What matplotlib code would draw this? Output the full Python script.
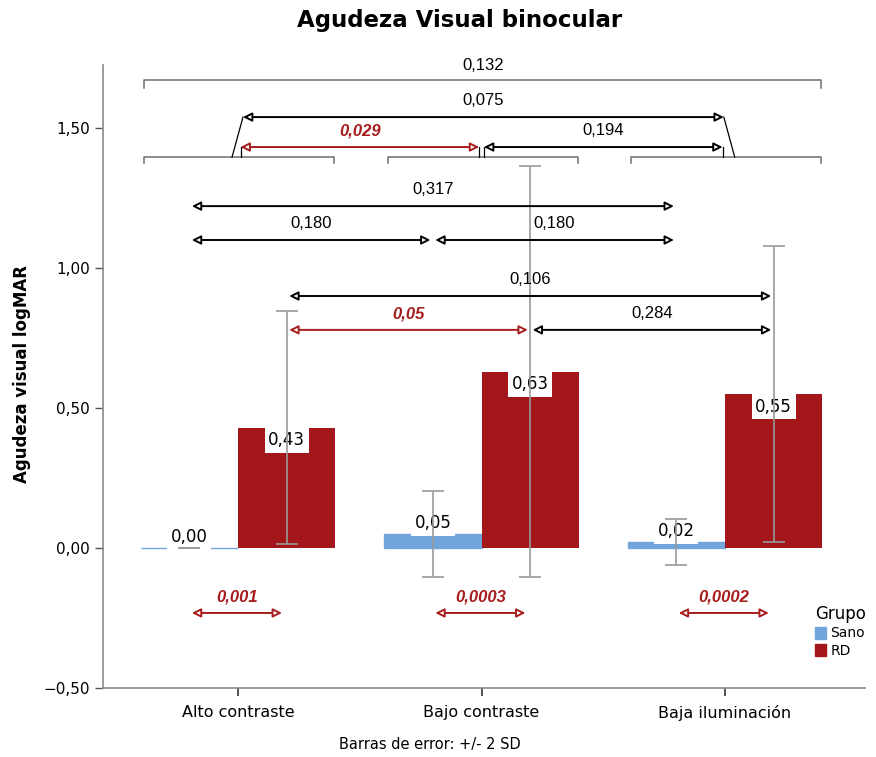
import numpy as np
import matplotlib
matplotlib.use('Agg')
import matplotlib.pyplot as plt
from matplotlib import font_manager
from matplotlib.ticker import FuncFormatter
from matplotlib.patches import Patch

categories = ['Alto contraste', 'Bajo contraste', 'Baja iluminación']
sano_mean = [0.00, 0.05, 0.02]
rd_mean = [0.43, 0.63, 0.55]
sano_2sd = [0.0, 0.152, 0.082]
rd_2sd = [0.415, 0.735, 0.53]

# p-values of the comparisons (index pairs of categories)
p_within = ['0,001', '0,0003', '0,0002']          # Sano vs RD in each condition
p_sano = [((0, 2), '0,317'), ((0, 1), '0,180'), ((1, 2), '0,180')]
p_rd = [((0, 2), '0,106'), ((0, 1), '0,05'), ((1, 2), '0,284')]
p_cond = [((0, 2), '0,075'), ((0, 1), '0,029'), ((1, 2), '0,194')]
p_global = '0,132'

blue = '#72a6da'
red = '#a3161a'
sig_red = '#a51d1d'
grey = '#9a9a9a'
installed = {f.name for f in font_manager.fontManager.ttflist}
if 'Liberation Sans Narrow' in installed:
    num_font = ['Liberation Sans Narrow', 'DejaVu Sans']
else:
    num_font = ['Liberation Sans', 'DejaVu Sans']

fig = plt.figure(figsize=(8.76, 7.57), dpi=100)
ax = fig.add_axes([103 / 876, 1 - 688 / 757, (865 - 103) / 876, (688 - 65) / 757])

bw = 0.4
x = np.arange(len(categories))
xs = x - bw / 2
xr = x + bw / 2

ax.bar(xs, sano_mean, bw, color=blue, edgecolor=blue, lw=1, zorder=2)
ax.bar(xr, rd_mean, bw, color=red, zorder=2)
ax.errorbar(xs, sano_mean, yerr=sano_2sd, fmt='none', ecolor=grey, elinewidth=1.2,
            capsize=8, capthick=1.2, zorder=5)
ax.errorbar(xr, rd_mean, yerr=rd_2sd, fmt='none', ecolor=grey, elinewidth=1.2,
            capsize=8, capthick=1.2, zorder=5)

lab_box = dict(fc='white', ec='none', pad=2.5)
for xi, v in zip(xs, sano_mean):
    ax.text(xi, v + 0.039, f'{v:.2f}'.replace('.', ','), ha='center', va='center',
            fontsize=12, bbox=lab_box, zorder=4)
for xi, v in zip(xr, rd_mean):
    ax.text(xi, v - 0.045, f'{v:.2f}'.replace('.', ','), ha='center', va='center',
            fontsize=12, bbox=lab_box, zorder=4)


def is_sig(s):
    return float(s.replace(',', '.')) <= 0.05


def arrow(x0, x1, y, label):
    c = sig_red if is_sig(label) else 'black'
    ax.annotate('', xy=(x1, y), xytext=(x0, y),
                arrowprops=dict(arrowstyle='<|-|>', color=c, fc='white', lw=1.4,
                                shrinkA=0, shrinkB=0, mutation_scale=13), zorder=6)
    if is_sig(label):
        ax.text((x0 + x1) / 2, y + 0.058, label, ha='center', va='center', color=c,
                fontsize=12, fontweight='bold', style='italic', family=num_font, zorder=6)
    else:
        ax.text((x0 + x1) / 2, y + 0.058, label, ha='center', va='center', color=c,
                fontsize=12, family=num_font, zorder=6)


# Sano vs RD within each condition
for i, p in enumerate(p_within):
    arrow(xs[i] + 0.01, xr[i] - 0.02, -0.232, p)

# between conditions, Sano
lv = {(0, 2): 1.221, (0, 1): 1.10, (1, 2): 1.10}
for (a, b), p in p_sano:
    arrow(xs[a] + 0.01, xs[b] - 0.01, lv[(a, b)], p)

# between conditions, RD
lv = {(0, 2): 0.90, (0, 1): 0.779, (1, 2): 0.779}
for (a, b), p in p_rd:
    arrow(xr[a] + 0.01, xr[b] - 0.01, lv[(a, b)], p)

# between conditions, both groups together
yb = 1.396
lc = '#6e6e6e'
for xi in x:
    ax.plot([xi - 0.385, xi - 0.385, xi + 0.395, xi + 0.395], [yb - 0.02, yb, yb, yb - 0.02],
            color=lc, lw=1.1, zorder=6)
lv = {(0, 2): 1.539, (0, 1): 1.432, (1, 2): 1.432}
for (a, b), p in p_cond:
    if (a, b) == (0, 2):
        arrow(x[a] + 0.02, x[b] - 0.005, lv[(a, b)], p)
        ax.plot([x[a] + 0.02, x[a] - 0.025], [lv[(a, b)], yb], color='black', lw=0.9, zorder=6)
        ax.plot([x[b] - 0.005, x[b] + 0.04], [lv[(a, b)], yb], color='black', lw=0.9, zorder=6)
    else:
        x0, x1 = x[a] + 0.01, x[b] - 0.01
        arrow(x0, x1, lv[(a, b)], p)
        ax.plot([x0, x0], [lv[(a, b)], yb], color='black', lw=0.9, zorder=6)
        ax.plot([x1, x1], [lv[(a, b)], yb], color='black', lw=0.9, zorder=6)

yg = 1.671
ax.plot([x[0] - 0.385, x[0] - 0.385, x[2] + 0.395, x[2] + 0.395], [yg - 0.028, yg, yg, yg - 0.028],
        color=lc, lw=1.1, zorder=6)
ax.text((x[0] - 0.385 + x[2] + 0.395) / 2, yg + 0.054, p_global, ha='center', va='center',
        fontsize=12, family=num_font)

ax.set_xlim(-0.555, 2.575)
ax.set_ylim(-0.5, 1.725)
ax.set_yticks([-0.5, 0.0, 0.5, 1.0, 1.5])
ax.yaxis.set_major_formatter(FuncFormatter(lambda v, _: f'{v:.2f}'.replace('.', ',').replace('-', '\u2212')))
ax.set_xticks(x)
ax.set_xticklabels(categories)
ax.tick_params(axis='y', labelsize=11, length=6, color='#555555', width=1)
ax.tick_params(axis='x', labelsize=11.5, length=6, color='#333333', width=1.2, pad=6)
for s in ['top', 'right']:
    ax.spines[s].set_visible(False)
for s in ['left', 'bottom']:
    ax.spines[s].set_color('#8a8a8a')
    ax.spines[s].set_linewidth(1.2)

handles = [Patch(color=blue, label='Sano'), Patch(color=red, label='RD')]
fig.legend(handles=handles, title='Grupo', loc='upper left',
           bbox_to_anchor=(815 / 876, 1 - 605 / 757), frameon=False, fontsize=10,
           title_fontsize=12, handlelength=0.8, handleheight=1.0, handletextpad=0.3,
           borderaxespad=0, borderpad=0, labelspacing=0.25, alignment='left')

fig.text(460 / 876, 1 - 20 / 757, 'Agudeza Visual binocular', ha='center', va='center',
         fontsize=16.5, fontweight='bold')
fig.text(22 / 876, 1 - 374 / 757, 'Agudeza visual logMAR', ha='center', va='center',
         rotation=90, fontsize=12, fontweight='bold')
fig.text(430 / 876, 1 - 745 / 757, 'Barras de error: +/- 2 SD', ha='center', va='center',
         fontsize=10.5)

fig.savefig('out.png', dpi=100)
